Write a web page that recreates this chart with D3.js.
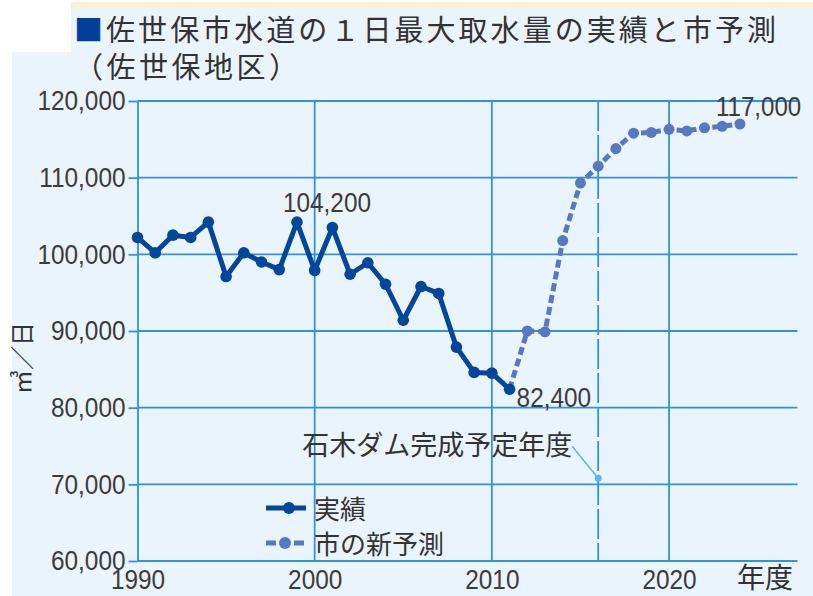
<!DOCTYPE html>
<html>
<meta charset="utf-8">
<head>
<title>佐世保市水道の１日最大取水量</title>
<style>
body { margin: 0; background: #fff; }
.grid line { stroke: #3492d8; stroke-width: 1.8px; }
.jp { font-family: "Noto Sans CJK JP", sans-serif; fill: #333; }
.num { font-family: "Liberation Sans", Arial, sans-serif; fill: #3c3c3c; font-size: 28px; }
</style>
</head>
<body>
<script src="https://d3js.org/d3.v7.min.js"></script>
<script>

// 実績 (1990-2011)
var years = [1990, 1991, 1992, 1993, 1994, 1995, 1996, 1997, 1998, 1999, 2000,
             2001, 2002, 2003, 2004, 2005, 2006, 2007, 2008, 2009, 2010, 2011];
var actual = [102200, 100200, 102500, 102200, 104200, 97100, 100200, 99000, 98000, 104200, 97900,
              103500, 97400, 98900, 96100, 91400, 95800, 94900, 87900, 84600, 84500, 82400];

// 市の新予測 (2011-2024)
var forecastYears = [2011, 2012, 2013, 2014, 2015, 2016, 2017, 2018, 2019, 2020, 2021, 2022, 2023, 2024];
var forecast = [82400, 90000, 89900, 101800, 109300, 111500, 113800, 115800, 115900, 116300, 116100, 116500, 116700, 117000];

var yTicks = [60000, 70000, 80000, 90000, 100000, 110000, 120000];
var xTicks = [1990, 2000, 2010, 2020];
var damYear = 2016;
var damMarkValue = 70800;

var W = 813, H = 596;
var x = d3.scaleLinear().domain([1990, 2027.25]).range([137.5, 797.5]);
var y = d3.scaleLinear().domain([60000, 120000]).range([561, 101]);

var svg = d3.select("body").append("svg")
    .attr("width", W).attr("height", H);

// background panel
svg.append("path")
    .attr("d", "M71,7H813V596H12V52H71Z")
    .attr("fill", "#eaf4fd");
svg.append("rect")
    .attr("x", 71).attr("y", 2).attr("width", W - 71).attr("height", 5.5)
    .attr("fill", "#fdf0d6");

// title
var title = svg.append("text").attr("class", "jp")
    .attr("x", 74).attr("y", 41)
    .style("font-size", "29px")
    .attr("textLength", 702).attr("lengthAdjust", "spacing");
title.append("tspan").attr("fill", "#003f98").text("■");
title.append("tspan").text("佐世保市水道の１日最大取水量の実績と市予測");
svg.append("text").attr("class", "jp")
    .attr("x", 74).attr("y", 78)
    .style("font-size", "29px")
    .attr("textLength", 224).attr("lengthAdjust", "spacing")
    .text("（佐世保地区）");

function condense(sel, k) {
  sel.each(function() {
    var w = this.getComputedTextLength();
    d3.select(this).attr("textLength", w * k).attr("lengthAdjust", "spacingAndGlyphs");
  });
}

// grid
var grid = svg.append("g").attr("class", "grid");
grid.selectAll(".h").data(yTicks).enter().append("line")
    .attr("x1", x(1990)).attr("x2", x.range()[1])
    .attr("y1", function(d) { return y(d); }).attr("y2", function(d) { return y(d); });
grid.selectAll(".v").data(xTicks.slice(1)).enter().append("line")
    .attr("x1", function(d) { return x(d); }).attr("x2", function(d) { return x(d); })
    .attr("y1", y(120000)).attr("y2", y(60000));
grid.append("line")
    .attr("x1", x(damYear)).attr("x2", x(damYear))
    .attr("y1", y(120000)).attr("y2", y(60000))
    .style("stroke-dasharray", "30,4");

// y axis
var yAxis = svg.append("g")
    .attr("transform", "translate(" + x(1990) + ",0)")
    .call(d3.axisLeft(y).tickValues(yTicks).tickSize(9).tickSizeOuter(0).tickPadding(3)
          .tickFormat(d3.format(",")))
    .attr("font-size", null).attr("font-family", null);
yAxis.selectAll("path, line").attr("stroke", "#3492d8").attr("stroke-width", 1.8);
yAxis.selectAll("text").attr("class", "num").attr("fill", null).call(condense, 0.87);

// x axis
var xAxis = svg.append("g")
    .attr("transform", "translate(0," + y(60000) + ")")
    .call(d3.axisBottom(x).tickValues(xTicks).tickSize(0).tickFormat(d3.format("d")))
    .attr("font-size", null).attr("font-family", null);
xAxis.select(".domain").remove();
xAxis.selectAll("text").attr("class", "num").attr("fill", null)
    .attr("y", 28).attr("dy", null).call(condense, 0.87);

svg.append("text").attr("class", "jp")
    .attr("x", 737).attr("y", 588)
    .style("font-size", "28px")
    .text("年度");

// y title
svg.append("text").attr("class", "jp")
    .attr("transform", "translate(31,358) rotate(-90)")
    .attr("text-anchor", "middle")
    .style("font-size", "24px")
    .text("㎥／日");

// series
var line = d3.line()
    .x(function(d) { return x(d[0]); })
    .y(function(d) { return y(d[1]); });

var fData = d3.zip(forecastYears, forecast);
var aData = d3.zip(years, actual);

svg.append("path").datum(fData)
    .attr("d", line)
    .attr("fill", "none").attr("stroke", "#5878c2")
    .attr("stroke-width", 5).attr("stroke-dasharray", "8,4");
svg.selectAll(".fdot").data(fData.slice(1)).enter().append("circle")
    .attr("cx", function(d) { return x(d[0]); })
    .attr("cy", function(d) { return y(d[1]); })
    .attr("r", 5.5).attr("fill", "#5878c2");

svg.append("path").datum(aData)
    .attr("d", line)
    .attr("fill", "none").attr("stroke", "#00469b")
    .attr("stroke-width", 5).attr("stroke-linejoin", "round");
svg.selectAll(".adot").data(aData).enter().append("circle")
    .attr("cx", function(d) { return x(d[0]); })
    .attr("cy", function(d) { return y(d[1]); })
    .attr("r", 5.8).attr("fill", "#00469b");

// value labels
svg.append("text").attr("class", "num")
    .attr("x", x(1999) - 14).attr("y", y(104200) - 10)
    .text(d3.format(",")(104200)).call(condense, 0.87);
svg.append("text").attr("class", "num")
    .attr("x", x(2011) + 7).attr("y", y(82400) + 18)
    .text(d3.format(",")(82400)).call(condense, 0.87);
svg.append("text").attr("class", "num")
    .attr("x", x(2024) - 24).attr("y", y(117000) - 8)
    .text(d3.format(",")(117000)).call(condense, 0.86);

// dam annotation
svg.append("line")
    .attr("x1", x(damYear) - 26).attr("y1", y(damMarkValue) - 32)
    .attr("x2", x(damYear)).attr("y2", y(damMarkValue))
    .attr("stroke", "#5ab6ec").attr("stroke-width", 1.5);
svg.append("circle")
    .attr("cx", x(damYear)).attr("cy", y(damMarkValue))
    .attr("r", 3.5).attr("fill", "#5ab6ec");
svg.append("text").attr("class", "jp")
    .attr("x", x(damYear) - 26).attr("y", y(damMarkValue) - 23)
    .attr("text-anchor", "end")
    .style("font-size", "27px")
    .text("石木ダム完成予定年度");

// legend
var legend = svg.append("g");
legend.append("line")
    .attr("x1", 266).attr("x2", 306).attr("y1", 508).attr("y2", 508)
    .attr("stroke", "#00469b").attr("stroke-width", 5);
legend.append("circle").attr("cx", 289).attr("cy", 508).attr("r", 6).attr("fill", "#00469b");
legend.append("text").attr("class", "jp")
    .attr("x", 314).attr("y", 519).style("font-size", "26px").text("実績");
legend.append("line")
    .attr("x1", 266).attr("x2", 304).attr("y1", 543).attr("y2", 543)
    .attr("stroke", "#5878c2").attr("stroke-width", 5).attr("stroke-dasharray", "10,4");
legend.append("circle").attr("cx", 285).attr("cy", 543).attr("r", 6).attr("fill", "#5878c2");
legend.append("text").attr("class", "jp")
    .attr("x", 314).attr("y", 554).style("font-size", "26px").text("市の新予測");

</script>
</body>
</html>
